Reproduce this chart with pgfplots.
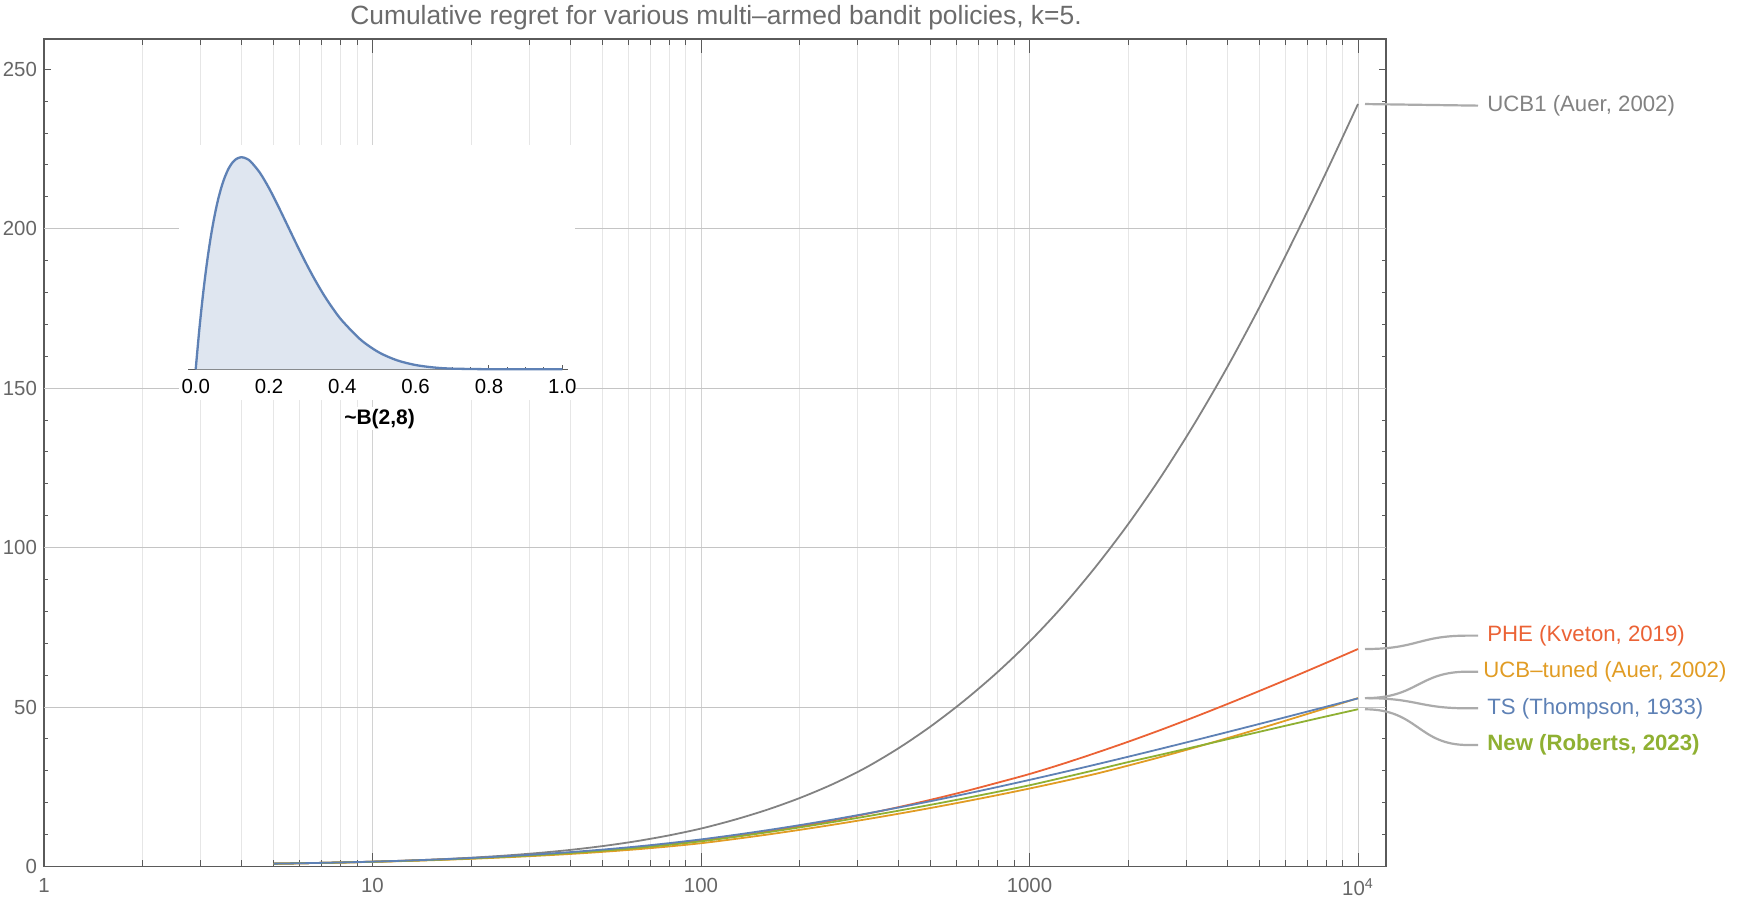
\documentclass[border=0pt]{standalone}
\usepackage{pgfplots}
\pgfplotsset{compat=1.18}
\usepackage{pgfplotstable}
\usepackage{fontspec}
\setmainfont{Liberation Sans}
\definecolor{cUCB}{HTML}{828282}
\definecolor{cPHE}{HTML}{EB6235}
\definecolor{cTUN}{HTML}{E19C24}
\definecolor{cTS}{HTML}{5E81B5}
\definecolor{cNEW}{HTML}{8FB032}
\definecolor{frame}{HTML}{5A5A5A}
\definecolor{labgray}{HTML}{666666}
\definecolor{titlegray}{HTML}{6B6B6B}
\definecolor{gridmin}{HTML}{E6E6E6}
\definecolor{gridmaj}{HTML}{D2D2D2}
\definecolor{hgrid}{HTML}{C4C4C4}
\definecolor{conn}{HTML}{ABABAB}
\definecolor{insetfill}{HTML}{DFE6F0}

\pgfplotstableread{
x       ucb    phe    tuned  ts      new
5       0.89   0.89   0.86   0.89    0.89
6.310   1.055  1.055  1.05   1.057   1.054
7.943   1.257  1.255  1.235  1.265   1.25
10      1.511  1.50   1.457  1.52    1.49
12.589  1.834  1.80   1.724  1.84    1.78
15.849  2.243  2.16   2.04   2.22    2.13
19.953  2.757  2.585  2.415  2.67    2.54
25.119  3.40   3.08   2.85   3.20    3.02
31.623  4.196  3.65   3.35   3.80    3.57
39.811  5.177  4.305  3.92   4.50    4.21
50.119  6.392  5.06   4.59   5.30    4.94
63.096  7.883  5.935  5.36   6.22    5.79
79.433  9.703  6.945  6.26   7.29    6.77
100     11.9   8.10   7.30   8.50    7.90
125.89  14.6   9.41   8.585  9.865   9.24
158.49  17.75  10.90  9.98   11.355  10.695
199.53  21.45  12.57  11.48  12.965  12.255
251.19  25.78  14.40  13.07  14.69   13.91
316.23  30.9   16.40  14.75  16.525  15.65
398.11  37.0   18.58  16.52  18.465  17.47
501.19  44.0   20.94  18.37  20.505  19.365
630.96  51.9   23.47  20.31  22.64   21.33
794.33  60.7   26.19  22.33  24.86   23.365
1000    70.5   29.00  24.45  27.155  25.47
1258.9  81.5   32.15  26.68  29.515  27.83
1584.9  93.8   35.55  29.02  31.935  30.25
1995.3  107.3  39.10  31.63  34.41   32.73
2511.9  122.2  42.85  34.36  36.93   35.07
3162.3  138.5  46.78  37.22  39.49   37.45
3981.1  156.2  50.85  40.18  42.085  39.84
5011.9  175.4  55.05  43.24  44.71   42.24
6309.6  195.8  59.34  46.38  47.36   44.63
7943.3  217.0  63.73  49.57  50.03   46.99
10000   239.1  68.20  52.81  52.72   49.31
}\regret

\pgfplotstableread{
x      f
0.00   0.000
0.01   0.671
0.02   1.250
0.03   1.745
0.04   2.164
0.05   2.514
0.06   2.802
0.07   3.033
0.08   3.213
0.09   3.349
0.10   3.444
0.11   3.503
0.12   3.531
0.125  3.534
0.13   3.531
0.14   3.507
0.15   3.463
0.175  3.277
0.20   3.020
0.225  2.720
0.25   2.403
0.275  2.085
0.30   1.779
0.325  1.494
0.35   1.235
0.375  1.006
0.40   0.806
0.45   0.493
0.50   0.281
0.55   0.148
0.60   0.071
0.65   0.030
0.70   0.011
0.80   0.001
0.90   0.000
1.00   0.000
}\betapdf

\newcommand\lab{\fontsize{11.1}{13}\selectfont}

\begin{document}
\begin{tikzpicture}
\useasboundingbox (0,0) rectangle (880pt,452pt);
\begin{axis}[
  at={(22pt,18.75pt)}, anchor=south west,
  scale only axis, width=671pt, height=413.75pt,
  xmode=log, xmin=1, xmax=12170, ymin=0, ymax=259.5,
  xtick={1,10,100,1000,10000},
  xticklabels={1,10,100,1000,{10\textsuperscript{4}}},
  minor xtick={2,3,4,5,6,7,8,9,20,30,40,50,60,70,80,90,200,300,400,500,600,700,800,900,2000,3000,4000,5000,6000,7000,8000,9000},
  ytick={0,50,100,150,200,250},
  minor ytick={10,20,30,40,60,70,80,90,110,120,130,140,160,170,180,190,210,220,230,240},
  xmajorgrids, xminorgrids,
  major grid style={color=gridmaj, line width=0.5pt},
  minor grid style={color=gridmin, line width=0.5pt},
  extra y ticks={50,100,150,200},
  extra y tick labels={},
  extra y tick style={grid=major, major grid style={color=hgrid, line width=0.5pt}, tick style={draw=none}},
  tick align=inside,
  xtick style={/pgfplots/major tick length=6.8pt, /pgfplots/minor tick length=3pt},
  ytick style={/pgfplots/major tick length=3.75pt, /pgfplots/minor tick length=2.2pt},
  tick style={color=frame, line width=0.5pt},
  axis line style={color=frame, line width=0.6pt},
  ticklabel style={text=labgray, font=\fontsize{10.2}{12}\selectfont},
  xticklabel style={yshift=-2.5pt},
  /pgf/number format/assume math mode=true,
  clip=false,
]
\addplot[cUCB, line width=0.9pt, smooth] table[x=x,y=ucb]{\regret};
\addplot[cPHE, line width=0.9pt, smooth] table[x=x,y=phe]{\regret};
\addplot[cTUN, line width=0.9pt, smooth] table[x=x,y=tuned]{\regret};
\addplot[cNEW, line width=0.9pt, smooth] table[x=x,y=new]{\regret};
\addplot[cTS, line width=0.9pt, smooth] table[x=x,y=ts]{\regret};

% connectors and labels
\draw[conn, line width=1.1pt] ([xshift=3.5pt]axis cs:10000,239.1) -- ([xshift=60pt]axis cs:10000,238.6);
\node[anchor=west, inner sep=0pt, text=cUCB, font=\lab] at ([xshift=64.5pt]axis cs:10000,238.6) {UCB1 (Auer, 2002)};

\draw[conn, line width=1.1pt] ([xshift=3.5pt]axis cs:10000,68.2) .. controls ([xshift=30pt]axis cs:10000,68.2) and ([xshift=30pt]axis cs:10000,72.4) .. ([xshift=55pt]axis cs:10000,72.4) -- ([xshift=60pt]axis cs:10000,72.4);
\node[anchor=west, inner sep=0pt, text=cPHE, font=\lab] at ([xshift=64.5pt]axis cs:10000,72.4) {PHE (Kveton, 2019)};

\draw[conn, line width=1.1pt] ([xshift=3.5pt]axis cs:10000,52.8) .. controls ([xshift=30pt]axis cs:10000,52.8) and ([xshift=30pt]axis cs:10000,61.1) .. ([xshift=55pt]axis cs:10000,61.1) -- ([xshift=60pt]axis cs:10000,61.1);
\node[anchor=west, inner sep=0pt, text=cTUN, font=\lab] at ([xshift=62.5pt]axis cs:10000,61.1) {UCB–tuned (Auer, 2002)};

\draw[conn, line width=1.1pt] ([xshift=3.5pt]axis cs:10000,52.8) .. controls ([xshift=30pt]axis cs:10000,52.8) and ([xshift=30pt]axis cs:10000,49.6) .. ([xshift=55pt]axis cs:10000,49.6) -- ([xshift=60pt]axis cs:10000,49.6);
\node[anchor=west, inner sep=0pt, text=cTS, font=\lab] at ([xshift=64.5pt]axis cs:10000,49.6) {TS (Thompson, 1933)};

\draw[conn, line width=1.1pt] ([xshift=3.5pt]axis cs:10000,49.3) .. controls ([xshift=30pt]axis cs:10000,49.3) and ([xshift=30pt]axis cs:10000,38.1) .. ([xshift=55pt]axis cs:10000,38.1) -- ([xshift=60pt]axis cs:10000,38.1);
\node[anchor=west, inner sep=0pt, text=cNEW, font=\lab\bfseries] at ([xshift=64.5pt]axis cs:10000,38.1) {New (Roberts, 2023)};
\end{axis}

% title
\node[anchor=base, text=titlegray, font=\fontsize{13.2}{15}\selectfont] at (358pt,439.5pt) {Cumulative regret for various multi–armed bandit policies, k=5.};

% inset background
\fill[white] (89.5pt,252pt) rectangle (287.5pt,379.5pt);

\begin{axis}[
  at={(94.15pt,267.35pt)}, anchor=south west,
  scale only axis, width=190pt, height=106pt,
  xmin=-0.0202, xmax=1.0164, ymin=0, ymax=3.534,
  axis y line=none, axis x line=bottom,
  x axis line style={-, color=frame, line width=0.6pt},
  xtick={0,0.2,0.4,0.6,0.8,1},
  minor x tick num=3,
  tick align=inside,
  major tick length=2.2pt, minor tick length=1.3pt,
  tick style={color=frame, line width=0.5pt},
  xticklabel style={text=black, font=\fontsize{10.2}{12}\selectfont, yshift=-1.5pt},
  /pgf/number format/.cd, fixed, fixed zerofill, precision=1, assume math mode=true,
  /pgfplots/.cd,
  clip=false,
]
\addplot[fill=insetfill, draw=none] table[x=x,y=f]{\betapdf} \closedcycle;
\addplot[cTS, line width=1.15pt, smooth] table[x=x,y=f]{\betapdf};
\end{axis}
\node[font=\fontsize{10.5}{12}\selectfont\bfseries, fill=white, inner sep=1pt] at (189.8pt,242.65pt) {\textasciitilde B(2,8)};
\end{tikzpicture}
\end{document}
